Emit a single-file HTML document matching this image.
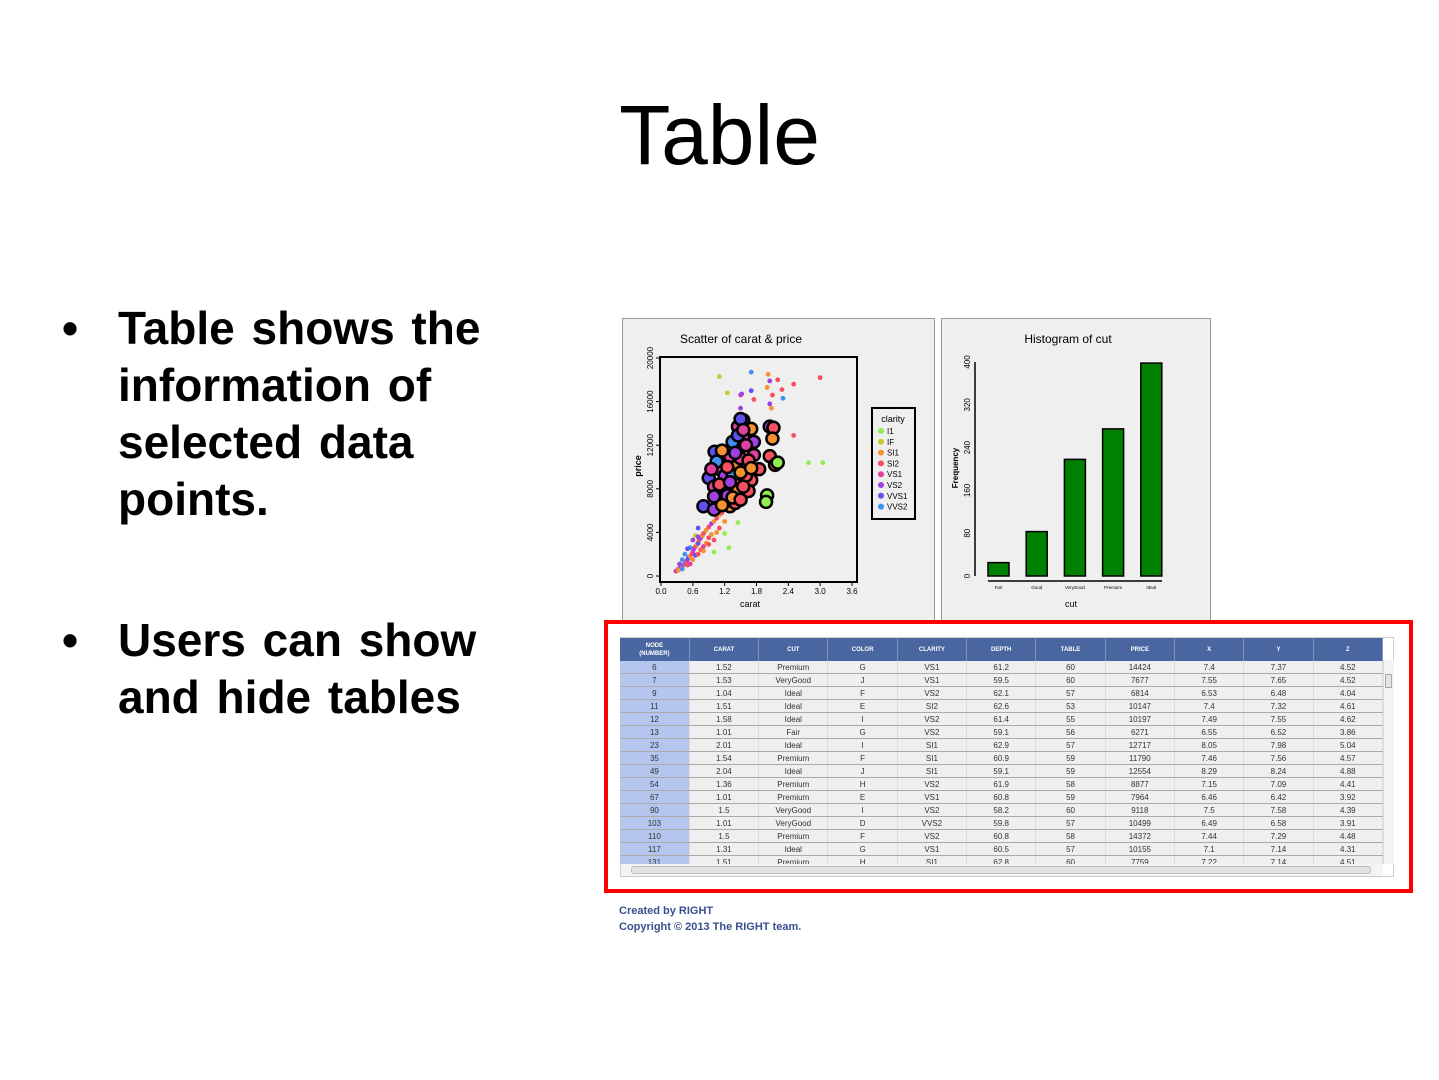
<!DOCTYPE html>
<html><head><meta charset="utf-8">
<style>
body{margin:0;width:1439px;height:1080px;background:#fff;position:relative;overflow:hidden;font-family:"Liberation Sans",sans-serif}
.abs{position:absolute}
#title{left:0;width:1439px;top:85px;text-align:center;font-size:84px;color:#000;line-height:100px}
.bullet{left:62px;font-weight:bold;font-size:46px;line-height:57px;color:#000}
.bullet span.dot{position:absolute;left:0;top:0}
.bullet div.t{margin-left:56px;word-spacing:4px}
.panel{background:#efefef;border:1px solid #999;box-sizing:border-box}
#tbl{left:620px;top:638px;border-collapse:collapse;table-layout:fixed;font-size:8px;color:#333}
#tbl td,#tbl th{padding:0;text-align:center;overflow:hidden;white-space:nowrap}
#tbl th{background:#4a66a0;color:#fff;height:23px;font-size:6px;border-right:1px solid #7f93c0;line-height:8px}
#tbl td{height:12px;border-bottom:1px solid #aaa;border-right:1px solid #ddd;background:#efefef}
#tbl td.n{background:#b4c6ee}
.foot{left:619px;font-size:11px;color:#3a4f8f;font-weight:bold}
</style></head><body>
<div id="title" class="abs">Table</div>
<div class="abs bullet" style="top:300px"><span class="dot">•</span><div class="t">Table shows the<br>information of<br>selected data<br>points.</div></div>
<div class="abs bullet" style="top:612px"><span class="dot">•</span><div class="t">Users can show<br>and hide tables</div></div>

<div class="abs panel" style="left:622px;top:318px;width:313px;height:303px"></div>
<div class="abs panel" style="left:941px;top:318px;width:270px;height:303px"></div>

<svg class="abs" style="left:0;top:0" width="1439" height="1080" id="charts">
<g font-family="Liberation Sans, sans-serif">
<text x="741" y="343" font-size="12" text-anchor="middle">Scatter of carat &amp; price</text>
<rect x="660" y="357" width="197" height="225" fill="none" stroke="#000" stroke-width="2"/>
<g id="scat"></g>
<text x="750" y="607" font-size="9" text-anchor="middle">carat</text>
<text transform="translate(641,466) rotate(-90)" font-size="9" font-weight="bold" text-anchor="middle">price</text>
<rect x="872" y="408" width="43" height="111" fill="#efefef" stroke="#000" stroke-width="2"/>
<text x="893" y="422" font-size="9" text-anchor="middle">clarity</text>
<g id="legend"></g>
<text x="1068" y="343" font-size="12" text-anchor="middle">Histogram of cut</text>
<g id="hist"></g>
<text x="1071" y="607" font-size="9" text-anchor="middle">cut</text>
<text transform="translate(958,468) rotate(-90)" font-size="8" font-weight="bold" text-anchor="middle">Frequency</text>
</g>
</svg>

<div class="abs" style="left:604px;top:620px;width:809px;height:273px;border:4px solid #f00;box-sizing:border-box"></div>
<div class="abs" style="left:620px;top:637px;width:774px;height:240px;background:#fff;border:1px solid #ccc;box-sizing:border-box"></div>
<div class="abs" style="left:620px;top:638px;width:763px;height:226px;overflow:hidden">
<table id="tbl" style="position:absolute;left:0;top:0;width:763px"><colgroup></colgroup><thead><tr>
<th>NODE<br>(NUMBER)</th><th>CARAT</th><th>CUT</th><th>COLOR</th><th>CLARITY</th><th>DEPTH</th><th>TABLE</th><th>PRICE</th><th>X</th><th>Y</th><th>Z</th></tr></thead><tbody id="tb"></tbody></table>
</div>
<div class="abs" style="left:1383px;top:660px;width:10px;height:204px;background:#f4f4f4;border-left:1px solid #ddd"><div style="position:absolute;left:1px;top:14px;width:7px;height:14px;background:#e4e4e4;border:1px solid #aaa;box-sizing:border-box"></div></div>
<div class="abs" style="left:621px;top:864px;width:762px;height:12px;background:#f4f4f4"><div style="position:absolute;left:10px;top:2px;width:740px;height:8px;background:#e2e2e2;border:1px solid #bbb;border-radius:3px;box-sizing:border-box"></div></div>

<div class="abs foot" style="top:905px">Created by RIGHT</div>
<div class="abs foot" style="top:921px">Copyright © 2013 The RIGHT team.</div>

<script>
const NS='http://www.w3.org/2000/svg';
const clarityNames=['I1','IF','SI1','SI2','VS1','VS2','VVS1','VVS2'];
const clarityColors=['#90ee50','#c8c830','#f79030','#f55060','#e040a0','#a040e0','#6050f0','#4090f0'];
const xTicks=[0,0.6,1.2,1.8,2.4,3.0,3.6];
const yTicks=[0,4000,8000,12000,16000,20000];
const smallPts=[[0.3,500,'VVS2'],[0.32,600,'VS2'],[0.35,700,'SI2'],[0.38,800,'VVS1'],[0.4,900,'SI1'],[0.42,1000,'VS1'],[0.45,1200,'VVS2'],[0.48,1300,'SI2'],[0.5,1500,'VS2'],[0.52,1700,'VVS1'],[0.55,1800,'SI1'],[0.58,2000,'SI2'],[0.6,2200,'VS1'],[0.62,2500,'VS2'],[0.65,2700,'SI2'],[0.68,2900,'SI1'],[0.7,3000,'VVS1'],[0.72,3300,'SI2'],[0.75,3500,'VS2'],[0.78,3700,'SI1'],[0.8,3900,'SI2'],[0.85,4200,'SI1'],[0.9,4500,'SI2'],[0.95,4800,'VS2'],[1.0,5000,'SI1'],[1.05,5300,'SI2'],[1.1,5600,'SI1'],[1.15,5800,'SI2'],[0.55,2600,'VVS2'],[0.65,3700,'IF'],[0.7,4400,'VVS1'],[1.0,2200,'I1'],[1.28,2600,'I1'],[1.45,4900,'I1'],[1.2,3900,'I1'],[0.45,2000,'VVS2'],[0.5,1000,'SI2'],[0.6,1500,'SI1'],[0.75,2400,'SI2'],[0.85,3000,'SI1'],[0.9,3500,'SI2'],[0.28,450,'VS1'],[0.33,550,'SI1'],[0.4,650,'VVS2'],[0.55,1100,'VS1'],[0.65,1900,'VVS1'],[0.8,2700,'VS1'],[0.95,3800,'SI1'],[0.7,2000,'SI2'],[0.8,2300,'SI1'],[0.9,2900,'SI2'],[1.0,3300,'SI2'],[1.05,4000,'SI1'],[1.1,4400,'SI2'],[1.2,5000,'SI1'],[0.6,3300,'VS2'],[0.7,3600,'VS2'],[0.5,2500,'VVS1'],[0.4,1500,'VVS2'],[0.35,1100,'VS2'],[1.1,18300,'IF'],[1.25,16800,'IF'],[1.7,18700,'VVS2'],[1.5,16600,'VS1'],[1.52,16700,'VS2'],[1.7,17000,'VVS1'],[1.75,16200,'SI2'],[2.02,18500,'SI1'],[2.05,17900,'VS2'],[2.2,18000,'SI2'],[2.1,16600,'SI2'],[2.28,17100,'SI2'],[2.5,17600,'SI2'],[2.3,16300,'VVS2'],[2.08,15400,'SI1'],[2.05,15800,'VS2'],[2.0,17300,'SI1'],[3.0,18200,'SI2'],[2.5,12900,'SI2'],[2.78,10400,'I1'],[3.05,10400,'I1'],[1.5,15400,'VS2']];
const bigPts=[[1.01,11400,'VVS1'],[0.9,9000,'VVS1'],[0.8,6400,'VVS1'],[1.0,6100,'VS2'],[1.3,6400,'SI1'],[1.1,9800,'VS1'],[1.3,10800,'VS2'],[1.5,11800,'VS2'],[1.45,13700,'VS1'],[1.55,14300,'VS2'],[1.5,14400,'VVS1'],[1.7,13500,'SI1'],[1.75,12300,'VS2'],[1.6,10400,'VS1'],[1.75,11100,'VS1'],[1.85,9800,'SI2'],[1.7,8800,'SI2'],[1.35,12300,'VVS2'],[1.4,8400,'SI1'],[1.2,8000,'SI1'],[1.0,8200,'VS1'],[1.2,6800,'SI2'],[1.4,6700,'SI2'],[2.05,13700,'VS2'],[2.12,13600,'SI2'],[2.1,12600,'SI1'],[2.05,11000,'SI2'],[2.15,10200,'SI2'],[2.2,10400,'I1'],[2.0,7400,'I1'],[1.98,6800,'I1'],[1.1,7000,'VS1'],[1.2,9200,'VS2'],[1.05,10500,'VVS2'],[1.3,11000,'VS1'],[1.6,9200,'SI2'],[1.45,7800,'SI1'],[1.15,11500,'SI1'],[1.25,7400,'VS2'],[1.55,12800,'VS1'],[1.4,10000,'SI1'],[1.65,7800,'SI2'],[1.35,9300,'VVS2'],[1.5,10800,'VS1'],[1.1,8400,'SI2'],[1.3,8600,'VS2'],[1.5,9500,'SI1'],[1.25,10000,'SI2'],[1.4,11300,'VS2'],[1.6,12000,'VS1'],[1.45,12900,'VVS1'],[1.55,13400,'VS1'],[1.35,7200,'SI1'],[1.55,8200,'SI2'],[1.0,7300,'VS2'],[0.95,9800,'VS1'],[1.15,6500,'SI1'],[1.5,7000,'SI2'],[1.65,10600,'SI2'],[1.7,9900,'SI1']];
const cutNames=['Fair','Good','VeryGood','Premium','Ideal'];
const cutCounts=[25,83,218,275,398];
const histTicks=[0,80,160,240,320,400];
const tableRows=[
['6','1.52','Premium','G','VS1','61.2','60','14424','7.4','7.37','4.52'],
['7','1.53','VeryGood','J','VS1','59.5','60','7677','7.55','7.65','4.52'],
['9','1.04','Ideal','F','VS2','62.1','57','6814','6.53','6.48','4.04'],
['11','1.51','Ideal','E','SI2','62.6','53','10147','7.4','7.32','4.61'],
['12','1.58','Ideal','I','VS2','61.4','55','10197','7.49','7.55','4.62'],
['13','1.01','Fair','G','VS2','59.1','56','6271','6.55','6.52','3.86'],
['23','2.01','Ideal','I','SI1','62.9','57','12717','8.05','7.98','5.04'],
['35','1.54','Premium','F','SI1','60.9','59','11790','7.46','7.56','4.57'],
['49','2.04','Ideal','J','SI1','59.1','59','12554','8.29','8.24','4.88'],
['54','1.36','Premium','H','VS2','61.9','58','8877','7.15','7.09','4.41'],
['67','1.01','Premium','E','VS1','60.8','59','7964','6.46','6.42','3.92'],
['90','1.5','VeryGood','I','VS2','58.2','60','9118','7.5','7.58','4.39'],
['103','1.01','VeryGood','D','VVS2','59.8','57','10499','6.49','6.58','3.91'],
['110','1.5','Premium','F','VS2','60.8','58','14372','7.44','7.29','4.48'],
['117','1.31','Ideal','G','VS1','60.5','57','10155','7.1','7.14','4.31'],
['131','1.51','Premium','H','SI1','62.8','60','7759','7.22','7.14','4.51']];

const sx=v=>661+v/3.6*191, sy=v=>576-v/20000*218;
const hy=v=>576-v/400*214;
function mk(tag,attrs,parent){const e=document.createElementNS(NS,tag);for(const k in attrs)e.setAttribute(k,attrs[k]);parent.appendChild(e);return e;}
const scat=document.getElementById('scat');
xTicks.forEach(t=>{
  const l=mk('line',{x1:sx(t),x2:sx(t),y1:582,y2:586,stroke:'#000'},scat);
  
  
  const tx=mk('text',{x:sx(t),y:594,'font-size':8,'text-anchor':'middle'},scat);tx.textContent=t.toFixed(1);
  
  
});
yTicks.forEach(t=>{
  const l=mk('line',{x1:656,x2:660,y1:sy(t),y2:sy(t),stroke:'#000'},scat);
  
  
  const tx=mk('text',{transform:`translate(653,${sy(t)}) rotate(-90)`,'font-size':8,'text-anchor':'middle'},scat);tx.textContent=t;
  
  
});
smallPts.forEach(p=>{
  const c=mk('circle',{cx:sx(p[0]),cy:sy(p[1]),r:2.4,fill:clarityColors[clarityNames.indexOf(p[2])]},scat);
  
  
});
bigPts.forEach(p=>{
  const c=mk('circle',{cx:sx(p[0]),cy:sy(p[1]),r:6,fill:clarityColors[clarityNames.indexOf(p[2])],stroke:'#000','stroke-width':2.5},scat);
  
  
});
const leg=document.getElementById('legend');
clarityNames.forEach((n,i)=>{
  const c=mk('circle',{cx:881,cy:431+i*10.8,r:3,fill:clarityColors[i]},leg);
  
  
  const t=mk('text',{x:887,y:434+i*10.8,'font-size':8},leg);t.textContent=n;
  
  
});
const hist=document.getElementById('hist');
mk('line',{x1:975,x2:975,y1:hy(400),y2:hy(0),stroke:'#000','stroke-width':1.5},hist);
mk('line',{x1:988,x2:1162,y1:581,y2:581,stroke:'#000','stroke-width':1.5},hist);
histTicks.forEach(t=>{
  const tx=mk('text',{transform:`translate(970,${hy(t)}) rotate(-90)`,'font-size':8,'text-anchor':'middle'},hist);tx.textContent=t;
  
  
});
cutNames.forEach((n,i)=>{
  const x0=988+i*38.2;
  const b=mk('rect',{x:x0,y:hy(cutCounts[i]),width:21,height:hy(0)-hy(cutCounts[i]),fill:'#008000',stroke:'#000','stroke-width':1.5},hist);
  
  
  const t=mk('text',{x:x0+10.5,y:589,'font-size':4.5,'text-anchor':'middle'},hist);t.textContent=n;
  
  
});
const tb=document.getElementById('tb');
tableRows.forEach(r=>{
  const tr=document.createElement('tr');
  
  
  r.forEach((v,i)=>{const td=document.createElement('td');td.textContent=v;if(i==0)td.className='n';tr.appendChild(td);});
  tb.appendChild(tr);
});
</script>
</body></html>
